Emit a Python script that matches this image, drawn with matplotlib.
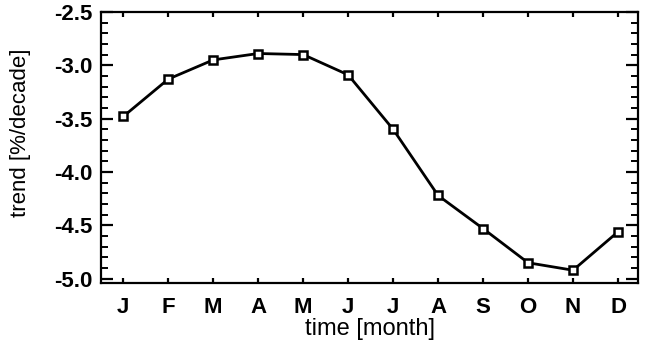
import matplotlib
matplotlib.use("Agg")
import matplotlib.pyplot as plt
from matplotlib.ticker import MultipleLocator

months = ["J", "F", "M", "A", "M", "J", "J", "A", "S", "O", "N", "D"]
trend = [-3.48, -3.13, -2.95, -2.89, -2.90, -3.09, -3.60, -4.22, -4.53, -4.85, -4.92, -4.56]

plt.rcParams["font.family"] = ["Liberation Sans", "DejaVu Sans"]

fig = plt.figure(figsize=(6.46, 3.49), dpi=100)
ax = fig.add_axes([0.156, 0.189, 0.832, 0.777])

x = list(range(1, len(months) + 1))
ax.plot(x, trend, color="black", lw=2, marker="s", ms=6,
        mfc="white", mec="black", mew=1.8)

ax.set_xlim(0.5, 12.45)
ax.set_ylim(-5.04, -2.5)
ax.set_xticks(x)
ax.set_xticklabels(months)
ax.yaxis.set_major_locator(MultipleLocator(0.5))
ax.yaxis.set_minor_locator(MultipleLocator(0.1))
ax.yaxis.set_major_formatter(plt.FuncFormatter(lambda v, p: f"{v:.1f}"))

for s in ax.spines.values():
    s.set_linewidth(1.6)
ax.tick_params(axis="x", direction="in", top=True, length=3.6, width=1.6,
               labelsize=16, pad=10)
ax.tick_params(axis="y", which="major", direction="in", right=True, length=8.5,
               width=1.6, labelsize=16, pad=6)
ax.tick_params(axis="y", which="minor", direction="in", right=True, length=5,
               width=1.4)
ax.tick_params(axis="x", which="minor", bottom=False, top=False)
for lab in ax.get_xticklabels() + ax.get_yticklabels():
    lab.set_fontweight("bold")

ax.set_xlabel("time [month]", fontsize=17, labelpad=0)
ax.set_ylabel("trend [%/decade]", fontsize=16)
ax.yaxis.set_label_coords(-0.13, 0.555)

fig.savefig("out.png", dpi=100)
